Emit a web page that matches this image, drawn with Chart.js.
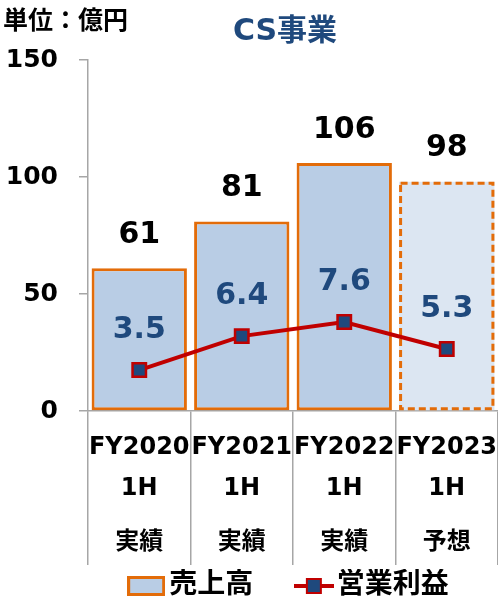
<!DOCTYPE html>
<html><head><meta charset="utf-8">
<script src="https://cdn.jsdelivr.net/npm/chart.js@4.4.0/dist/chart.umd.min.js"></script>
<style>html,body{margin:0;padding:0;background:#fff;} canvas{display:block;}</style>
</head><body>
<canvas id="c" width="498" height="596"></canvas>
<script>
const years = ['FY2020', 'FY2021', 'FY2022', 'FY2023'];
const halves = ['1H', '1H', '1H', '1H'];
const status = ['実績', '実績', '実績', '予想'];
const sales = [61, 81, 106, 98];
const profit = [3.5, 6.4, 7.6, 5.3];
const yTicks = [0, 50, 100, 150];
const seriesNames = ['売上高', '営業利益'];
const unitLabel = '単位：億円';
const titleText = 'CS事業';

const FONT = '"DejaVu Sans", "Noto Sans CJK JP", sans-serif';
const ORANGE = '#E36C09';
const BAR_FILL = '#B9CDE5';
const BAR_FILL_FC = '#DCE6F2';
const RED = '#C00000';
const NAVY = '#1F497D';
const GRAY = '#A6A6A6';

const forecast = status.map(s => s === '予想');
const labels = years.map((y, i) => [y, '', '', halves[i], '', '', '', status[i]]);

// legend icons
const barIcon = document.createElement('canvas');
barIcon.width = 38; barIcon.height = 20;
(function () {
  const g = barIcon.getContext('2d');
  g.fillStyle = BAR_FILL; g.fillRect(1.5, 1.5, 35, 17);
  g.strokeStyle = ORANGE; g.lineWidth = 3; g.strokeRect(1.5, 1.5, 35, 17);
})();
const lineIcon = document.createElement('canvas');
lineIcon.width = 40; lineIcon.height = 20;
(function () {
  const g = lineIcon.getContext('2d');
  g.strokeStyle = RED; g.lineWidth = 4;
  g.beginPath(); g.moveTo(0, 10); g.lineTo(40, 10); g.stroke();
  g.fillStyle = NAVY; g.fillRect(13, 3, 14, 14);
  g.strokeStyle = RED; g.lineWidth = 2; g.strokeRect(13, 3, 14, 14);
})();

const textPlugin = {
  id: 'texts',
  afterDraw(chart) {
    const ctx = chart.ctx;
    ctx.save();
    ctx.textBaseline = 'middle';
    ctx.fillStyle = '#000';
    ctx.textAlign = 'left';
    ctx.font = 'bold 25px ' + FONT;
    ctx.fillText(unitLabel, 3, 22);
    ctx.fillStyle = NAVY;
    ctx.textAlign = 'center';
    ctx.font = 'bold 30px ' + FONT;
    ctx.fillText(titleText, 285, 32);
    ctx.restore();
  }
};

const dashedBar = {
  id: 'dashedBar',
  afterDatasetDraw(chart, args) {
    if (args.index !== 0) return;
    const ctx = chart.ctx;
    args.meta.data.forEach((el, i) => {
      if (!forecast[i]) return;
      const p = el.getProps(['x', 'y', 'base', 'width'], true);
      ctx.save();
      ctx.setLineDash([7, 4]);
      ctx.lineWidth = 3;
      ctx.strokeStyle = ORANGE;
      ctx.strokeRect(p.x - p.width / 2 + 1.5, p.y + 1.5, p.width - 3, p.base - p.y - 3);
      ctx.restore();
    });
  }
};

const valueLabels = {
  id: 'valueLabels',
  afterDatasetsDraw(chart) {
    const ctx = chart.ctx;
    ctx.save();
    ctx.textAlign = 'center';
    ctx.textBaseline = 'middle';
    ctx.font = 'bold 30px ' + FONT;
    ctx.fillStyle = '#000';
    chart.getDatasetMeta(0).data.forEach((el, i) => ctx.fillText(String(sales[i]), el.x, el.y - 33));
    ctx.fillStyle = NAVY;
    chart.getDatasetMeta(1).data.forEach((el, i) => ctx.fillText(profit[i].toFixed(1), el.x, el.y - 40));
    ctx.restore();
  }
};

new Chart(document.getElementById('c'), {
  type: 'bar',
  data: {
    labels: labels,
    datasets: [
      {
        type: 'bar',
        label: seriesNames[0],
        data: sales,
        backgroundColor: forecast.map(f => f ? BAR_FILL_FC : BAR_FILL),
        borderColor: ORANGE,
        borderWidth: forecast.map(f => f ? 0 : 3),
        borderSkipped: false,
        barPercentage: 0.93,
        categoryPercentage: 1.0,
        yAxisID: 'y',
        order: 2
      },
      {
        type: 'line',
        label: seriesNames[1],
        data: profit,
        borderColor: RED,
        borderWidth: 4,
        pointStyle: 'rect',
        pointRadius: 9.5,
        pointBackgroundColor: NAVY,
        pointBorderColor: RED,
        pointBorderWidth: 2.5,
        tension: 0,
        yAxisID: 'y2',
        order: 1
      }
    ]
  },
  options: {
    responsive: false,
    animation: false,
    layout: { autoPadding: false, padding: { top: 60, bottom: -14, left: 0, right: 0 } },
    plugins: {
      tooltip: { enabled: false },
      title: { display: false },
      legend: {
        display: true,
        position: 'bottom',
        fullSize: false,
        labels: {
          usePointStyle: true,
          pointStyleWidth: 18,
          padding: 3,
          color: '#000',
          font: { size: 28, weight: 'bold', family: FONT },
          generateLabels: () => [
            { text: seriesNames[0] + '     ', pointStyle: barIcon, fillStyle: 'rgba(0,0,0,0)', strokeStyle: 'rgba(0,0,0,0)', lineWidth: 0, hidden: false, datasetIndex: 0 },
            { text: seriesNames[1], pointStyle: lineIcon, fillStyle: 'rgba(0,0,0,0)', strokeStyle: 'rgba(0,0,0,0)', lineWidth: 0, hidden: false, datasetIndex: 1 }
          ]
        }
      }
    },
    scales: {
      x: {
        offset: true,
        border: { display: true, color: GRAY, width: 1.5 },
        grid: { display: true, offset: true, drawOnChartArea: false, drawTicks: true, tickLength: 154, color: GRAY, lineWidth: 1.5 },
        ticks: {
          autoSkip: false, maxRotation: 0, minRotation: 0,
          padding: -124,
          color: '#000',
          font: { size: 24, weight: 'bold', family: FONT, lineHeight: '13.6px' }
        },
        afterFit: s => { s.height = 158; }
      },
      y: {
        min: 0, max: 150,
        border: { display: true, color: GRAY, width: 1.5 },
        grid: { display: true, drawOnChartArea: false, drawTicks: true, tickLength: 9, color: GRAY, lineWidth: 1.5 },
        afterBuildTicks: s => { s.ticks = yTicks.map(v => ({ value: v })); },
        ticks: {
          padding: 21,
          color: '#000',
          font: { size: 25, weight: 'bold', family: FONT }
        },
        afterFit: s => { s.width = 88; }
      },
      y2: {
        min: 0, max: 30,
        display: false,
        position: 'right'
      }
    }
  },
  plugins: [textPlugin, dashedBar, valueLabels]
});
</script>
</body></html>
